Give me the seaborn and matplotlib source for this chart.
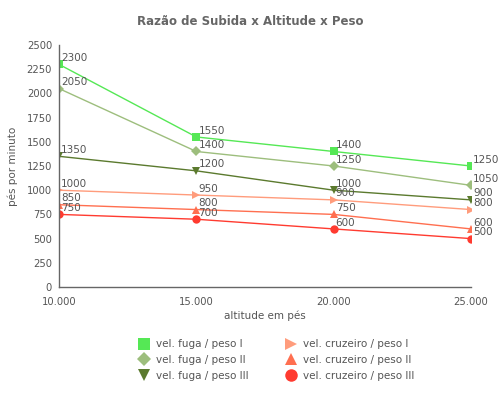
import matplotlib
matplotlib.use("Agg")
import matplotlib.pyplot as plt
import seaborn as sns
import pandas as pd

altitudes = [10000, 15000, 20000, 25000]
fuga_peso_1 = [2300, 1550, 1400, 1250]
fuga_peso_2 = [2050, 1400, 1250, 1050]
fuga_peso_3 = [1350, 1200, 1000, 900]
cruzeiro_peso_1 = [1000, 950, 900, 800]
cruzeiro_peso_2 = [850, 800, 750, 600]
cruzeiro_peso_3 = [750, 700, 600, 500]
series_names = ["vel. fuga / peso I", "vel. fuga / peso II", "vel. fuga / peso III",
                "vel. cruzeiro / peso I", "vel. cruzeiro / peso II", "vel. cruzeiro / peso III"]
x_tick_labels = ["10.000", "15.000", "20.000", "25.000"]
y_ticks = list(range(0, 2501, 250))

colors = ["#55E855", "#9DBE7D", "#5B7A2E", "#FF9C7C", "#FF6F50", "#FF3B30"]
markers = ["s", "D", "v", ">", "^", "o"]
msizes = [6, 5, 6, 6, 6, 6]

sns.set_theme(style="white")
plt.rcParams['font.family'] = ['DejaVu Sans']

all_vals = [fuga_peso_1, fuga_peso_2, fuga_peso_3, cruzeiro_peso_1, cruzeiro_peso_2, cruzeiro_peso_3]
rows = []
for name, vals in zip(series_names, all_vals):
    for a, v in zip(altitudes, vals):
        rows.append({"altitude": a, "valor": v, "serie": name})
df = pd.DataFrame(rows)

fig = plt.figure(figsize=(5, 4), dpi=100)
ax = fig.add_axes([0.118, 0.2825, 0.824, 0.605])

txt = "#555555"
for i, name in enumerate(series_names):
    sub = df[df["serie"] == name]
    sns.lineplot(data=sub, x="altitude", y="valor", ax=ax, color=colors[i], lw=1.0,
                 marker=markers[i], markersize=msizes[i], markeredgewidth=0,
                 label=name, legend=False)
    for a, v in zip(sub["altitude"], sub["valor"]):
        ax.annotate(f"{v}", (a, v), xytext=(1.5, 1), textcoords="offset points",
                    ha="left", va="bottom", fontsize=7.5, color=txt)

ax.set_xlim(10000, 25000)
ax.set_ylim(0, 2500)
ax.set_xticks(altitudes)
ax.set_xticklabels(x_tick_labels)
ax.set_yticks(y_ticks)
ax.set_yticklabels([str(t) for t in y_ticks])
ax.tick_params(axis="both", labelsize=7.2, colors=txt, length=4, width=1, direction="out")
ax.tick_params(axis="x", length=6, pad=1)
ax.tick_params(axis="y", pad=1)
for s in ["top", "right"]:
    ax.spines[s].set_visible(False)
for s in ["left", "bottom"]:
    ax.spines[s].set_color("#666666")
    ax.spines[s].set_linewidth(1)
ax.set_xlabel("altitude em pés", fontsize=7.5, color=txt, labelpad=3)
ax.set_ylabel("pés por minuto", fontsize=7.5, color=txt, labelpad=6)
ax.set_facecolor("white")

fig.suptitle("Razão de Subida x Altitude x Peso", x=0.5, y=0.962, fontsize=8.5,
             fontweight="bold", color="#666666")

handles, labels = ax.get_legend_handles_labels()
leg = fig.legend(handles, labels, ncol=2, loc="upper left", bbox_to_anchor=(0.27, 0.162),
                 frameon=False, fontsize=7.5, handlelength=1.0, handletextpad=0.6,
                 columnspacing=3.6, labelspacing=0.55, borderaxespad=0, markerscale=1.5)
for t in leg.get_texts():
    t.set_color(txt)
for h in leg.legend_handles:
    h.set_linestyle("none")

fig.savefig("out.png", dpi=100, facecolor="white")
